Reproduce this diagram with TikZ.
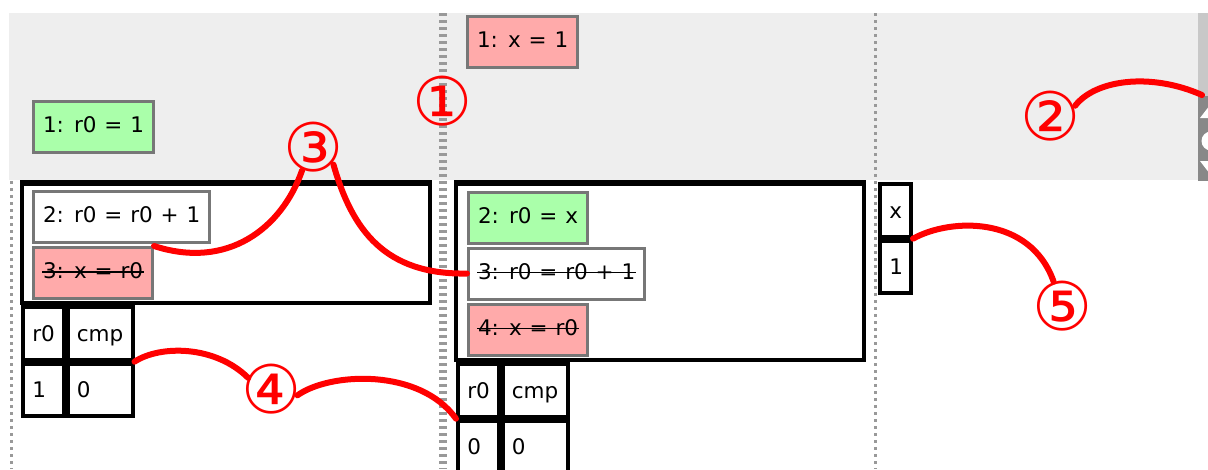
\documentclass[tikz,border=0pt]{standalone}
\usepackage{fontspec}
\setmainfont{DejaVu Sans}[WordSpace=1.15]
\newfontfamily\circfont{DejaVu Sans}
\usetikzlibrary{positioning}
\definecolor{okgreen}{HTML}{AAFFAA}
\definecolor{badpink}{HTML}{FFAAAA}
\definecolor{panegray}{HTML}{EEEEEE}
\definecolor{boxgray}{HTML}{777777}
\definecolor{dotgray}{HTML}{999999}
\definecolor{barlight}{HTML}{C8C8C8}
\definecolor{bardark}{HTML}{888888}
\definecolor{markred}{HTML}{FF0000}
\begin{document}
\begin{tikzpicture}[
    x=1pt, y=-1pt,
    every node/.style={font=\fontsize{21.5}{26}\selectfont, inner sep=0pt},
    stmt/.style={draw=boxgray, line width=3pt, fill=white, inner xsep=9.5pt,
        minimum height=51pt, text height=15.7pt, text depth=4pt, anchor=north west},
    ok/.style={stmt, fill=okgreen},
    bad/.style={stmt, fill=badpink},
    struck/.style={append after command={
        ([shift={(10pt,7pt)}]\tikzlastnode.base west)
        edge[draw=black, line width=1.6pt]
        ([shift={(-10pt,7pt)}]\tikzlastnode.base east)}},
    cell/.style={draw=black, line width=4pt, fill=white, inner xsep=9.3pt,
        minimum height=52.7pt, text height=15.7pt, text depth=0pt,
        align=left, text width=#1},
    cell/.default=21.9pt,
    frame/.style={draw=black, line width=4pt},
    divider/.style={dotgray, dash pattern=on 3.3pt off 3.7pt},
    callout/.style={circle, minimum size=52pt, text=markred,
        text height=0pt, text depth=0pt, font=\circfont\fontsize{67}{72}\selectfont},
    wire/.style={markred, line width=6pt, line cap=round}
]
\useasboundingbox (0,0) rectangle (1208,469);
\clip (0,0) rectangle (1208,469);

% upper pane and scroll bar
\fill[panegray] (9,13) rectangle (1198,180);
\fill[barlight] (1198,13) rectangle (1208,96);
\fill[bardark] (1198,96) rectangle (1208,181);
\fill[white] (1200,118) -- (1210,105) -- (1220,118) -- cycle;
\fill[white] (1211,141) circle[radius=9.5pt];
\fill[white] (1200,161) -- (1220,161) -- (1210,174) -- cycle;
\coordinate (bar) at (1202,95);

% column borders
\draw[divider, line width=3.5pt] (11.3,181) -- (11.3,469);
\draw[divider, line width=8pt] (443,13) -- (443,469);
\draw[divider, line width=3.5pt] (875.5,13) -- (875.5,469);

% frames
\draw[frame] (22,182) rectangle (430,303);
\fill (20,180) rectangle (432,186);
\draw[frame] (456,182) rectangle (864,360);
\fill (454,180) rectangle (866,186);

% first column
\node[ok] (a1) at (32,100) {1: r0 = 1};
\node[stmt] (a2) at (32,190) {2: r0 = r0 + 1};
\node[bad, struck, below=2pt of a2.south west, anchor=north west] (a3) {3: x = r0};
\node[cell, anchor=north west] (r0a) at (21,305) {r0};
\node[cell=46.4pt, right=0pt of r0a] (cmpa) {cmp};
\node[cell, below=0pt of r0a] (r0va) {1};
\node[cell=46.4pt, below=0pt of cmpa] (cmpva) {0};

% second column
\node[bad] (b1) at (466,15) {1: x = 1};
\node[ok] (b2) at (467,190.5) {2: r0 = x};
\node[stmt, struck, below=2pt of b2.south west, anchor=north west] (b3) {3: r0 = r0 + 1};
\node[bad, struck, below=2pt of b3.south west, anchor=north west] (b4) {4: x = r0};
\node[cell, anchor=north west] (r0b) at (456,362) {r0};
\node[cell=46.4pt, right=0pt of r0b] (cmpb) {cmp};
\node[cell, below=0pt of r0b] (r0vb) {0};
\node[cell=46.4pt, below=0pt of cmpb] (cmpvb) {0};

% third column
\node[cell=12.4pt, anchor=north west] (xc) at (878,182) {x};
\node[cell=12.4pt, below=0pt of xc] (xvc) {1};

% callouts
\node[callout] (n1) at (443,101) {\makebox[0pt]{\raisebox{-24pt}{①}}};
\node[callout] (n2) at (1051,116) {\makebox[0pt]{\raisebox{-24pt}{②}}};
\node[callout] (n3) at (314,147) {\makebox[0pt]{\raisebox{-24pt}{③}}};
\node[callout] (n4) at (272,389) {\makebox[0pt]{\raisebox{-24pt}{④}}};
\node[callout] (n5) at (1063,306) {\makebox[0pt]{\raisebox{-24pt}{⑤}}};

\draw[wire] (n2.23) .. controls (1095,80) and (1150,72) .. (bar);
\draw[wire] (n3.-117) .. controls (282,228) and (228,270) .. (a3.north east);
\draw[wire] (n3.-42) .. controls (352,230) and (385,275) .. (b3.west);
\draw[wire] (cmpa.south east) .. controls (160,345) and (215,345) .. (n4.155);
\draw[wire] (n4.-14) .. controls (330,372) and (420,368) .. (r0b.south west);
\draw[wire] (xc.south east) .. controls (950,218) and (1030,215) .. (n5.111);
\end{tikzpicture}
\end{document}
